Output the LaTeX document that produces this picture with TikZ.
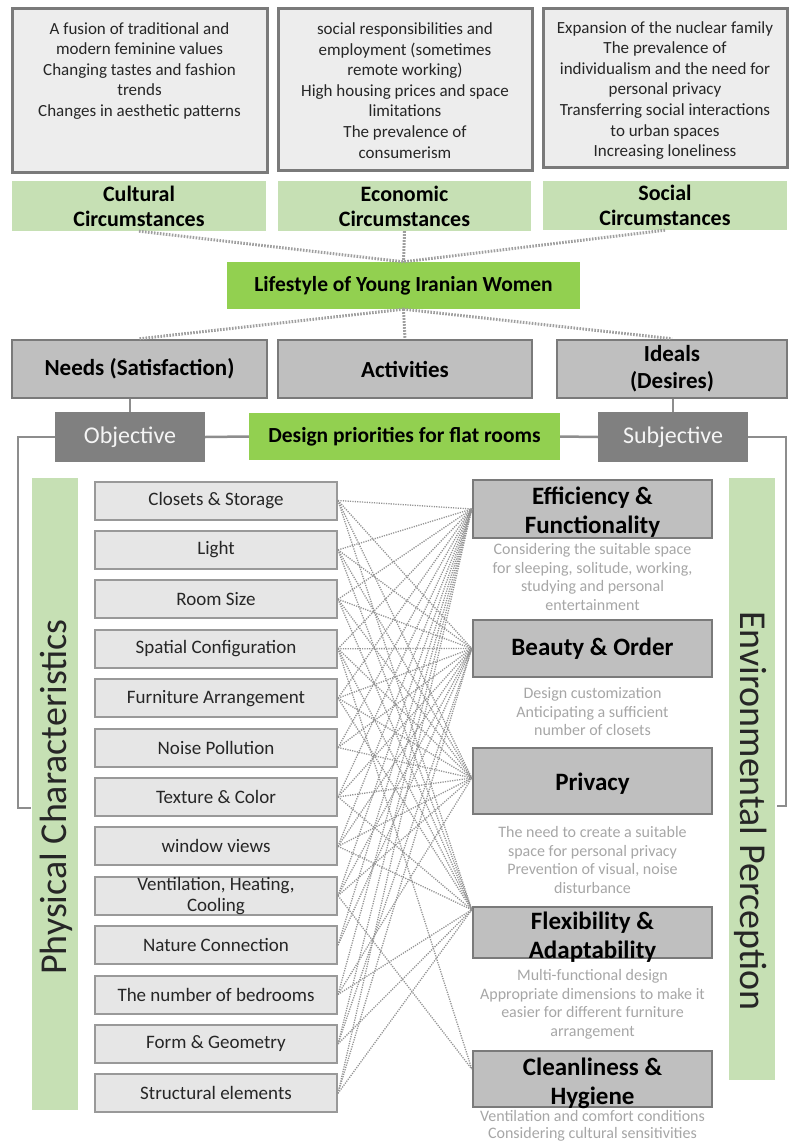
\documentclass[tikz,border=0pt]{standalone}
\usepackage{fontspec}
\setmainfont{Carlito}
\usepackage{tikz}
\usetikzlibrary{calc}
\usepackage{xcolor}

\definecolor{paleGray}{HTML}{EDEDED}
\definecolor{itemGray}{HTML}{E6E6E6}
\definecolor{midGray}{HTML}{BFBFBF}
\definecolor{darkGray}{HTML}{808080}
\definecolor{edgeGray}{HTML}{7A7A7A}
\definecolor{paleGreen}{HTML}{C6E0B4}
\definecolor{brightGreen}{HTML}{92D050}
\definecolor{descGray}{HTML}{A6A6A6}
\definecolor{inkGray}{HTML}{262626}

\begin{document}
\begin{tikzpicture}[x=1pt, y=-1pt]
        % ================= styles =================
        \tikzset{
            % big grey boxes at the top
            topbox/.style={rectangle, draw=edgeGray, line width=3pt, fill=paleGray, inner sep=0pt},
            toptext/.style={anchor=north, align=center, inner sep=0pt, text=inkGray, font=\fontsize{17}{20.6}\selectfont},
            % green headers
            greenhead/.style={rectangle, fill=paleGreen, inner sep=0pt, align=center, font=\fontsize{22}{25}\selectfont\bfseries},
            greenmain/.style={rectangle, fill=brightGreen, inner sep=0pt, align=center, font=\fontsize{21.5}{24}\selectfont\bfseries},
            % needs / activities / ideals
            factorbox/.style={rectangle, draw=edgeGray, line width=2.5pt, fill=midGray, inner sep=0pt, align=center, font=\fontsize{23}{27}\selectfont\bfseries},
            % objective / subjective
            darkbox/.style={rectangle, fill=darkGray, inner sep=0pt, text=white!92!gray, font=\fontsize{24}{26}\selectfont},
            % vertical side bars
            sidebar/.style={rectangle, fill=paleGreen, inner sep=0pt},
            sidetext/.style={inner sep=0pt, text=inkGray, font=\fontsize{38}{40}\selectfont},
            % physical items
            itembox/.style={rectangle, draw=darkGray!80, line width=2pt, fill=itemGray, minimum width=242pt, minimum height=38pt, inner sep=0pt, align=center, text=inkGray, font=\fontsize{19}{21}\selectfont},
            % priorities
            priobox/.style={rectangle, draw=edgeGray, line width=2.5pt, fill=midGray, minimum width=239pt, inner sep=0pt},
            priotitle/.style={align=center, inner sep=0pt, font=\fontsize{25}{29.5}\selectfont\bfseries},
            desc/.style={anchor=north, align=center, inner sep=0pt, text=descGray, font=\fontsize{16}{18.8}\selectfont},
            % connectors
            dotlink/.style={draw=gray!75, line width=3pt, dash pattern=on 1.6pt off 1.4pt},
            link/.style={draw=gray!85, line width=1.3pt, dash pattern=on 1.2pt off 1.2pt},
            bracket/.style={draw=darkGray!90, line width=2.5pt}
        }

        \useasboundingbox (0,0) rectangle (790,1142);

        % ================= top: circumstances =================
        \node[topbox, minimum width=255pt, minimum height=164pt] (cultbox) at (139.5,91) {};
        \node[topbox, minimum width=254pt, minimum height=162pt] (econbox) at (405,90) {};
        \node[topbox, minimum width=244pt, minimum height=159pt] (socbox) at (665,88.5) {};

        \node[toptext] (culttext) at (139.5,22) {A fusion of traditional and\\ modern feminine values\\ Changing tastes and fashion\\ trends\\ Changes in aesthetic patterns};
        \node[toptext] (econtext) at (405,22.5) {social responsibilities and\\ employment (sometimes\\ remote working)\\ High housing prices and space\\ limitations\\ The prevalence of\\ consumerism};
        \node[toptext] (soctext) at (665,21) {Expansion of the nuclear family\\ The prevalence of\\ individualism and the need for\\ personal privacy\\ Transferring social interactions\\ to urban spaces\\ Increasing loneliness};

        \node[greenhead, minimum width=254pt, minimum height=50pt] (cult) at (139,206) {Cultural\\ Circumstances};
        \node[greenhead, minimum width=253pt, minimum height=50pt] (econ) at (404.5,206) {Economic\\ Circumstances};
        \node[greenhead, minimum width=244pt, minimum height=49pt] (soc) at (665,205.5) {Social\\ Circumstances};

        % ================= lifestyle =================
        \node[greenmain, minimum width=353pt, minimum height=47pt] (life) at (403.5,285.5) {Lifestyle of Young Iranian Women};

        \draw[dotlink] (cult.south) -- (life.north);
        \draw[dotlink] (econ.south) -- (life.north);
        \draw[dotlink] (soc.south) -- (life.north);

        % ================= needs / activities / ideals =================
        \node[factorbox, minimum width=255pt, minimum height=58pt] (needs) at (139.5,369) {Needs (Satisfaction)};
        \node[factorbox, minimum width=254pt, minimum height=58pt] (act) at (405,369) {Activities};
        \node[factorbox, minimum width=230pt, minimum height=58pt] (ideals) at (672,369) {Ideals\\ (Desires)};

        \draw[dotlink] (life.south) -- (needs.north);
        \draw[dotlink] (life.south) -- (act.north);
        \draw[dotlink] (life.south) -- (ideals.north);

        % ================= design priorities row =================
        \node[darkbox, minimum width=150pt, minimum height=50pt] (obj) at (130,437) {Objective};
        \node[greenmain, minimum width=311pt, minimum height=47pt] (design) at (404.5,436.5) {Design priorities for flat rooms};
        \node[darkbox, minimum width=150pt, minimum height=50pt] (subj) at (673,437) {Subjective};

        \draw[bracket] (obj.north) -- (obj.north |- needs.south);
        \draw[bracket] (subj.north) -- (subj.north |- ideals.south);
        \draw[bracket] (obj.east) -- (design.west);
        \draw[bracket] (design.east) -- (subj.west);

        \coordinate (lfoot) at (18,808);
        \coordinate (lfootend) at (31,808);
        \coordinate (rfoot) at (786,806);
        \coordinate (rfootend) at (777,806);
        \draw[bracket] (obj.west) -| (lfoot) -- (lfootend);
        \draw[bracket] (subj.east) -| (rfoot) -- (rfootend);

        % ================= side bars =================
        \node[sidebar, minimum width=46pt, minimum height=632pt] (phys) at (55,794) {};
        \node[sidebar, minimum width=46pt, minimum height=602pt] (env) at (752,779) {};
        \node[sidetext, rotate=90] (physlabel) at (56,797) {Physical Characteristics};
        \node[sidetext, rotate=-90] (envlabel) at (751,811) {Environmental Perception};

        % ================= physical items =================
        \foreach \lab [count=\i] in {Closets \& Storage, Light, Room Size, Spatial Configuration, Furniture Arrangement, Noise Pollution, Texture \& Color, window views, {Ventilation, Heating,\\ Cooling}, Nature Connection, The number of bedrooms, Form \& Geometry, Structural elements}{
            \node[itembox] (i\i) at (216,{500.5+(\i-1)*49.4}) {\lab};
        }

        % ================= priorities =================
        \node[priobox, minimum height=58pt] (eff) at (592.5,509) {};
        \node[priobox, minimum height=57pt] (bea) at (592.5,648.5) {};
        \node[priobox, minimum height=66pt] (pri) at (592.5,781) {};
        \node[priobox, minimum height=51pt] (flex) at (592.5,932.5) {};
        \node[priobox, minimum height=56pt] (cle) at (592.5,1079) {};

        \node[priotitle] (efftitle) at (592.5,512) {Efficiency \&\\ Functionality};
        \node[priotitle] (beatitle) at (592.5,649) {Beauty \& Order};
        \node[priotitle] (prititle) at (592.5,784) {Privacy};
        \node[priotitle] (flextitle) at (592.5,937) {Flexibility \&\\ Adaptability};
        \node[priotitle] (cletitle) at (592.5,1083.5) {Cleanliness \&\\ Hygiene};

        \node[desc] (effdesc) at (592.5,543) {Considering the suitable space\\ for sleeping, solitude, working,\\ studying and personal\\ entertainment};
        \node[desc] (beadesc) at (592.5,687) {Design customization\\ Anticipating a sufficient\\ number of closets};
        \node[desc] (pridesc) at (592.5,826) {The need to create a suitable\\ space for personal privacy\\ Prevention of visual, noise\\ disturbance};
        \node[desc] (flexdesc) at (592.5,969) {Multi-functional design\\ Appropriate dimensions to make it\\ easier for different furniture\\ arrangement};
        \node[desc, font=\fontsize{16}{17}\selectfont] (cledesc) at (592.5,1110) {Ventilation and comfort conditions\\ Considering cultural sensitivities};

        % ================= links =================
        \coordinate (effin) at (eff.west);
        \coordinate (beain) at (bea.west);
        \coordinate (priin) at ($(pri.west)+(0,-3)$);
        \coordinate (flexin) at ($(flex.north west)+(0,4)$);
        \coordinate (clein) at ($(cle.west)+(0,-10)$);

        \foreach \a/\b in {1/effin, 2/effin, 3/effin, 4/effin, 5/effin, 6/effin, 7/effin, 8/effin, 9/effin, 10/effin, 11/effin, 12/effin, 13/effin,
                           1/beain, 2/beain, 3/beain, 4/beain, 5/beain, 6/beain, 7/beain, 8/beain, 9/beain, 10/beain, 12/beain, 13/beain,
                           1/priin, 2/priin, 3/priin, 4/priin, 5/priin, 6/priin, 7/priin, 8/priin, 9/priin, 11/priin,
                           1/flexin, 2/flexin, 3/flexin, 4/flexin, 5/flexin, 7/flexin, 8/flexin, 11/flexin, 12/flexin, 13/flexin,
                           4/clein, 9/clein}{
            \draw[link] (i\a.east) -- (\b);
        }

\end{tikzpicture}
\end{document}
